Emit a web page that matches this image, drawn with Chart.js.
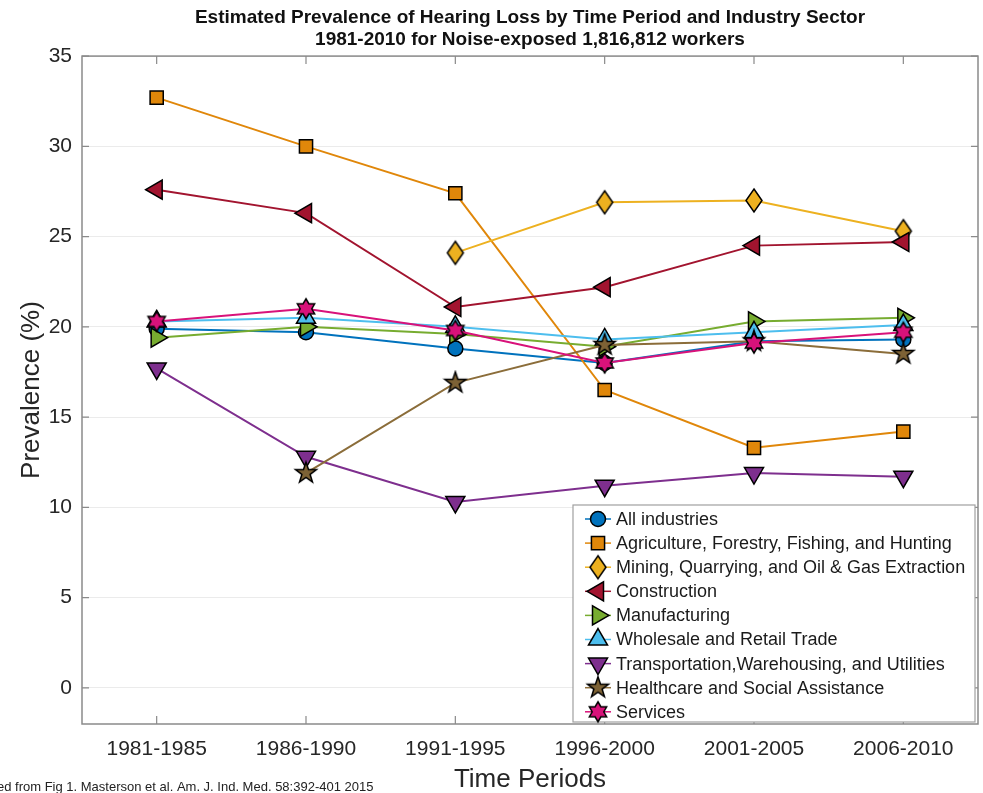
<!DOCTYPE html>
<html>
<head>
<meta charset="utf-8">
<title>Hearing Loss Prevalence by Industry</title>
<script src="https://cdn.jsdelivr.net/npm/chart.js@4.4.1/dist/chart.umd.min.js"></script>
<style>
  html, body { margin: 0; padding: 0; background: #fff; }
  #wrap { width: 983px; height: 793px; }
</style>
</head>
<body>
<div id="wrap"><canvas id="chart" width="983" height="793"></canvas></div>
<script>
// time periods on the x axis
const periods = ['1981-1985', '1986-1990', '1991-1995', '1996-2000', '2001-2005', '2006-2010'];
const yTicks = [0, 5, 10, 15, 20, 25, 30, 35];

// prevalence (%) per sector
const allIndustries  = [19.9, 19.7, 18.8, 18.0, 19.2, 19.3];
const agriculture    = [32.7, 30.0, 27.4, 16.5, 13.3, 14.2];
const mining         = [null, null, 24.1, 26.9, 27.0, 25.3];
const construction   = [27.6, 26.3, 21.1, 22.2, 24.5, 24.7];
const manufacturing  = [19.4, 20.0, 19.6, 18.9, 20.3, 20.5];
const wholesale      = [20.3, 20.5, 20.0, 19.3, 19.7, 20.1];
const transportation = [17.7, 12.8, 10.3, 11.2, 11.9, 11.7];
const healthcare     = [null, 11.9, 16.9, 19.0, 19.2, 18.5];
const services       = [20.3, 21.0, 19.8, 18.0, 19.1, 19.7];

const FONT = 'Arial, "Liberation Sans", Helvetica, sans-serif';

// canvas markers for shapes Chart.js doesn't have
function makeMarker(w, h, fill, path) {
    const c = document.createElement('canvas');
    c.width = w; c.height = h;
    const g = c.getContext('2d');
    g.beginPath();
    path(g, w / 2, h / 2);
    g.closePath();
    g.fillStyle = fill;
    g.fill();
    g.lineWidth = 1.5;
    g.strokeStyle = '#000';
    g.lineJoin = 'miter';
    g.stroke();
    return c;
}

function starPath(points, outer, inner) {
    return (g, cx, cy) => {
        for (let i = 0; i < points * 2; i++) {
            const r = i % 2 === 0 ? outer : inner;
            const a = -Math.PI / 2 + i * Math.PI / points;
            const x = cx + r * Math.cos(a), y = cy + r * Math.sin(a);
            if (i === 0) g.moveTo(x, y); else g.lineTo(x, y);
        }
    };
}

const diamondMarker = makeMarker(20, 27, '#EDB120', (g, cx, cy) => {
    g.moveTo(cx, cy - 11.5);
    g.lineTo(cx + 8, cy);
    g.lineTo(cx, cy + 11.5);
    g.lineTo(cx - 8, cy);
});
const starMarker = makeMarker(26, 26, '#7D6235', starPath(5, 11, 4.3));
const hexMarker = makeMarker(24, 24, '#D8127A', starPath(6, 10, 5.8));

const series = [
    { label: 'All industries', data: allIndustries, color: '#0072BD', fill: '#0072BD', style: 'circle', radius: 7.5, rot: 0 },
    { label: 'Agriculture, Forestry, Fishing, and Hunting', data: agriculture, color: '#E0870A', fill: '#E0870A', style: 'rect', radius: 9.3, rot: 0 },
    { label: 'Mining, Quarrying, and Oil & Gas Extraction', data: mining, color: '#EDB120', fill: '#EDB120', style: diamondMarker, radius: 10, rot: 0 },
    { label: 'Construction', data: construction, color: '#A2142F', fill: '#A2142F', style: 'triangle', radius: 11, rot: -90 },
    { label: 'Manufacturing', data: manufacturing, color: '#77AC30', fill: '#77AC30', style: 'triangle', radius: 11, rot: 90 },
    { label: 'Wholesale and Retail Trade', data: wholesale, color: '#4DBEEE', fill: '#4DBEEE', style: 'triangle', radius: 11, rot: 0 },
    { label: 'Transportation,Warehousing, and Utilities', data: transportation, color: '#7E2F8E', fill: '#7E2F8E', style: 'triangle', radius: 11, rot: 180 },
    { label: 'Healthcare and Social Assistance', data: healthcare, color: '#8B6D3A', fill: '#7D6235', style: starMarker, radius: 10, rot: 0 },
    { label: 'Services', data: services, color: '#D8127A', fill: '#D8127A', style: hexMarker, radius: 10, rot: 0 }
];

const datasets = series.map((s, i) => ({
    label: s.label,
    data: s.data,
    borderColor: s.color,
    backgroundColor: s.color,
    borderWidth: 2,
    tension: 0,
    pointStyle: s.style,
    pointRadius: s.radius,
    pointHoverRadius: s.radius,
    pointRotation: s.rot,
    pointBackgroundColor: s.fill,
    pointBorderColor: '#000',
    pointBorderWidth: 1.5,
    order: series.length - i   // later series drawn on top
}));

// box around the plot with inward tick marks on all four sides
const frame = {
    id: 'frame',
    beforeDatasetsDraw(chart) {
        const { ctx, chartArea: a, scales } = chart;
        ctx.save();
        ctx.strokeStyle = '#8a8a8a';
        ctx.lineWidth = 1.5;
        ctx.strokeRect(a.left, a.top, a.right - a.left, a.bottom - a.top);
        ctx.lineWidth = 1.2;
        ctx.beginPath();
        scales.x.ticks.forEach((t, i) => {
            const x = scales.x.getPixelForTick(i);
            ctx.moveTo(x, a.top); ctx.lineTo(x, a.top + 8);
            ctx.moveTo(x, a.bottom); ctx.lineTo(x, a.bottom - 8);
        });
        scales.y.ticks.forEach(t => {
            const y = scales.y.getPixelForValue(t.value);
            ctx.moveTo(a.left, y); ctx.lineTo(a.left + 7, y);
            ctx.moveTo(a.right, y); ctx.lineTo(a.right - 7, y);
        });
        ctx.stroke();
        ctx.restore();
    }
};

// legend drawn inside the lower right corner of the plot
const insideLegend = {
    id: 'insideLegend',
    afterDatasetsDraw(chart) {
        const { ctx, chartArea: a } = chart;
        const w = 402, h = 217, rowH = 24.1;
        const left = a.right - 3 - w, top = a.bottom - 2 - h;
        ctx.save();
        ctx.fillStyle = '#fff';
        ctx.fillRect(left, top, w, h);
        ctx.strokeStyle = '#a0a0a0';
        ctx.lineWidth = 1.2;
        ctx.strokeRect(left, top, w, h);
        ctx.font = '18px ' + FONT;
        ctx.textBaseline = 'middle';
        ctx.textAlign = 'left';
        chart.data.datasets.forEach((ds, i) => {
            const y = top + 14 + i * rowH;
            const mx = left + 25;
            ctx.strokeStyle = ds.borderColor;
            ctx.lineWidth = 1.5;
            ctx.beginPath();
            ctx.moveTo(mx - 13, y); ctx.lineTo(mx + 13, y);
            ctx.stroke();
            ctx.fillStyle = ds.pointBackgroundColor;
            ctx.strokeStyle = '#000';
            ctx.lineWidth = 1.5;
            Chart.helpers.drawPoint(ctx, {
                pointStyle: ds.pointStyle, rotation: ds.pointRotation,
                radius: ds.pointRadius, borderWidth: 1.5
            }, mx, y);
            ctx.fillStyle = '#1a1a1a';
            ctx.fillText(ds.label, left + 43, y + 1);
        });
        ctx.restore();
    }
};

// source note at the lower left
const sourceNote = {
    id: 'sourceNote',
    afterDraw(chart) {
        const { ctx } = chart;
        ctx.save();
        ctx.font = '13px ' + FONT;
        ctx.fillStyle = '#222';
        ctx.textBaseline = 'alphabetic';
        ctx.textAlign = 'left';
        ctx.fillText('Adapted from Fig 1. Masterson et al. Am. J. Ind. Med. 58:392-401 2015', -37, 791);
        ctx.restore();
    }
};

new Chart(document.getElementById('chart'), {
    type: 'line',
    data: { labels: periods, datasets },
    plugins: [frame, insideLegend, sourceNote],
    options: {
        responsive: false,
        devicePixelRatio: 1,
        animation: false,
        layout: { autoPadding: false, padding: { left: 0, right: 5, top: 0, bottom: 0 } },
        plugins: {
            legend: { display: false },
            tooltip: { enabled: false },
            title: {
                display: true,
                fullSize: false,
                text: ['Estimated Prevalence of Hearing Loss by Time Period and Industry Sector',
                       '1981-2010 for Noise-exposed 1,816,812 workers'],
                color: '#111',
                font: { family: FONT, size: 19, weight: 'bold', lineHeight: 1.16 },
                padding: { top: 7, bottom: 5 }
            }
        },
        scales: {
            x: {
                offset: true,
                grid: { display: false, drawTicks: false },
                border: { display: false },
                ticks: { color: '#262626', font: { family: FONT, size: 21 }, padding: 13, maxRotation: 0 },
                title: {
                    display: true, text: 'Time Periods', color: '#262626',
                    font: { family: FONT, size: 26 }, padding: { top: 0, bottom: -2 }
                },
                afterFit(scale) {
                    scale.height = 69;
                    scale.paddingLeft = 0;
                    scale.paddingRight = 0;
                }
            },
            y: {
                min: -2,
                max: 35,
                afterBuildTicks(scale) { scale.ticks = yTicks.map(v => ({ value: v })); },
                grid: { color: '#ebebeb', lineWidth: 1, drawTicks: false },
                border: { display: false },
                ticks: { color: '#262626', font: { family: FONT, size: 21 }, padding: 10 },
                title: {
                    display: true, text: 'Prevalence (%)', color: '#262626',
                    font: { family: FONT, size: 26 }, padding: { top: 16, bottom: 0 }
                },
                afterFit(scale) { scale.width = 82; }
            }
        }
    }
});
</script>
</body>
</html>
